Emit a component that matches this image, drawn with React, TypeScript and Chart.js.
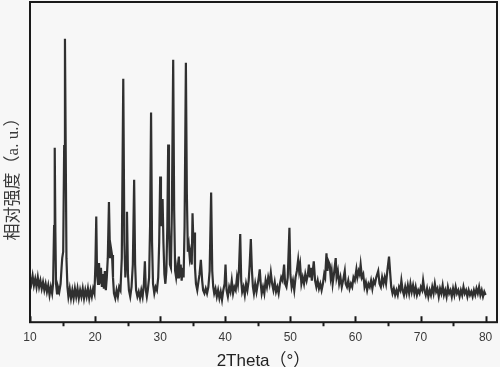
import React, { useEffect, useRef } from "react";
import { Chart, registerables } from "chart.js";

Chart.register(...registerables);

// 2θ (degrees), relative intensity (0–100)
const xrdPattern: [number, number][] = [
  [10.0, 14], [10.2, 12], [10.4, 14.5], [10.6, 11.5], [10.8, 13.5], [11.0, 11], [11.2, 14], [11.4, 11],
  [11.6, 13], [11.8, 10.5], [12.0, 12.5], [12.2, 10], [12.4, 12], [12.6, 9.5], [12.8, 11.5], [13.0, 8.5],
  [13.2, 11], [13.4, 9], [13.55, 12], [13.7, 30], [13.8, 54.5], [13.9, 28], [14.0, 12], [14.15, 9],
  [14.3, 11], [14.5, 9.5], [14.7, 12], [14.85, 17], [14.95, 20], [15.1, 22], [15.25, 55], [15.37, 88.5],
  [15.5, 50], [15.6, 20], [15.75, 11], [15.9, 8], [16.1, 10.5], [16.3, 7.5], [16.5, 10], [16.7, 7.5],
  [16.9, 10.5], [17.1, 8], [17.3, 10.5], [17.5, 7.5], [17.7, 10], [17.9, 8], [18.1, 10.5], [18.3, 7.5],
  [18.5, 10], [18.7, 8], [18.9, 10.5], [19.1, 7.5], [19.3, 10], [19.5, 8], [19.7, 10.5], [19.9, 9],
  [20.05, 18], [20.18, 33], [20.3, 15], [20.45, 12], [20.6, 18.5], [20.75, 12], [20.9, 17], [21.05, 11],
  [21.2, 15], [21.35, 10.5], [21.5, 16], [21.65, 10], [21.8, 14], [21.95, 20], [22.13, 37.5], [22.3, 20],
  [22.45, 23], [22.6, 21], [22.75, 14], [22.9, 9], [23.1, 7.5], [23.3, 10], [23.5, 8], [23.7, 11],
  [23.9, 10], [24.1, 20], [24.33, 76], [24.5, 25], [24.65, 14], [24.78, 20], [24.9, 34.5], [25.05, 15],
  [25.2, 10], [25.4, 8], [25.6, 11], [25.8, 18], [26.0, 44.5], [26.15, 18], [26.3, 10], [26.5, 8],
  [26.7, 9.5], [26.9, 7.5], [27.1, 10], [27.3, 8], [27.5, 12], [27.65, 19], [27.8, 10], [27.95, 8],
  [28.1, 10], [28.3, 14], [28.45, 30], [28.6, 65.5], [28.75, 25], [28.9, 12], [29.1, 9], [29.3, 11],
  [29.5, 10], [29.7, 14], [29.85, 25], [30.0, 45.5], [30.12, 30], [30.25, 33], [30.37, 38.5], [30.5, 25],
  [30.65, 15], [30.8, 12], [30.95, 16], [31.1, 30], [31.23, 55.5], [31.35, 30], [31.5, 18], [31.65, 17],
  [31.8, 35], [32.0, 82], [32.15, 35], [32.3, 16], [32.45, 14], [32.6, 17], [32.75, 14], [32.87, 20.5],
  [33.0, 14], [33.15, 18], [33.3, 13], [33.45, 17], [33.6, 14], [33.75, 30], [33.95, 81], [34.1, 40],
  [34.25, 22], [34.4, 24], [34.55, 20], [34.7, 22], [34.85, 18], [34.97, 34], [35.1, 25], [35.2, 28],
  [35.35, 17], [35.5, 12], [35.7, 10], [35.9, 13], [36.05, 15], [36.25, 19.5], [36.45, 13], [36.6, 10],
  [36.8, 9], [37.0, 10.5], [37.2, 9], [37.4, 11], [37.6, 16], [37.83, 40.5], [38.0, 16], [38.15, 11],
  [38.3, 9], [38.5, 10.5], [38.7, 8], [38.9, 10], [39.1, 7.5], [39.3, 9.5], [39.5, 7], [39.7, 10],
  [39.9, 12], [40.04, 18], [40.2, 10], [40.4, 8], [40.6, 11], [40.8, 9.5], [41.0, 13], [41.2, 9],
  [41.4, 11], [41.6, 10], [41.8, 14], [41.95, 12], [42.1, 16], [42.3, 27.5], [42.45, 13], [42.6, 9.5],
  [42.8, 11], [43.0, 8.5], [43.2, 12], [43.4, 10], [43.6, 13], [43.75, 18], [43.93, 26], [44.1, 16],
  [44.25, 11], [44.4, 9], [44.6, 12], [44.8, 9.5], [45.0, 12], [45.15, 14], [45.3, 16.5], [45.45, 12],
  [45.6, 9], [45.8, 11], [46.0, 9], [46.2, 13], [46.4, 11], [46.6, 14], [46.8, 12], [47.0, 15.5],
  [47.2, 12], [47.4, 10], [47.6, 12.5], [47.8, 9.5], [48.0, 11], [48.2, 9], [48.4, 12], [48.6, 14],
  [48.8, 13], [49.04, 18], [49.2, 12], [49.4, 11], [49.6, 14], [49.86, 29.5], [50.0, 15], [50.2, 11],
  [50.4, 13], [50.6, 10], [50.8, 14], [51.0, 16], [51.2, 19.5], [51.35, 16], [51.5, 18], [51.7, 12],
  [51.9, 14], [52.1, 12], [52.3, 15], [52.5, 13], [52.7, 15], [52.85, 18], [53.0, 14], [53.15, 17],
  [53.3, 13], [53.45, 16], [53.6, 19], [53.8, 13], [54.0, 11], [54.2, 13], [54.4, 10.5], [54.6, 12],
  [54.8, 10], [55.0, 12], [55.2, 15], [55.35, 14], [55.55, 21.5], [55.7, 16], [55.85, 19], [56.05, 18],
  [56.2, 14], [56.35, 16], [56.5, 12], [56.7, 15], [56.97, 20], [57.1, 14], [57.3, 16], [57.5, 12],
  [57.7, 14], [57.9, 11], [58.1, 13], [58.36, 16], [58.5, 12], [58.7, 11], [58.9, 13], [59.1, 10.5],
  [59.3, 12], [59.5, 11], [59.7, 14], [59.9, 13], [60.15, 16.5], [60.3, 14], [60.5, 16], [60.65, 15],
  [60.8, 18], [61.0, 14], [61.2, 15], [61.4, 11], [61.6, 12.5], [61.8, 10], [62.0, 12], [62.2, 11],
  [62.4, 13], [62.6, 10.5], [62.8, 13], [63.0, 12], [63.2, 14], [63.5, 16], [63.7, 12], [63.9, 11],
  [64.1, 14], [64.3, 12], [64.5, 14], [64.7, 12], [64.9, 16], [65.16, 20.5], [65.35, 15], [65.5, 11],
  [65.7, 9], [65.9, 10.5], [66.1, 8.5], [66.3, 10], [66.5, 8.5], [66.7, 11], [66.9, 10], [67.06, 13],
  [67.25, 10], [67.45, 8.5], [67.65, 11], [67.85, 9], [68.05, 11.5], [68.25, 9], [68.45, 12], [68.65, 9.5],
  [68.85, 11.5], [69.05, 9], [69.25, 11], [69.45, 8.5], [69.65, 10], [69.85, 9], [70.05, 11], [70.25, 10],
  [70.4, 13], [70.6, 10], [70.8, 8.5], [71.0, 10.5], [71.2, 8], [71.4, 10], [71.6, 8.5], [71.8, 11],
  [72.0, 9], [72.2, 12], [72.4, 9.5], [72.6, 10.5], [72.8, 8], [73.0, 10.5], [73.2, 9], [73.4, 11.5],
  [73.6, 8.5], [73.8, 10], [74.0, 8], [74.2, 11], [74.4, 9], [74.6, 10], [74.8, 8], [75.0, 10.5],
  [75.2, 8.5], [75.4, 11], [75.6, 9], [75.8, 10], [76.0, 8], [76.2, 10], [76.4, 8.5], [76.6, 11],
  [76.8, 9], [77.0, 10], [77.2, 8], [77.4, 10], [77.6, 8.5], [77.8, 9.5], [78.0, 8], [78.2, 10],
  [78.4, 8.5], [78.6, 10.5], [78.8, 9], [79.0, 11], [79.2, 8.5], [79.4, 10], [79.6, 8], [79.8, 9.5],
  [80.0, 8.5],
];

const xTickValues = [10, 20, 30, 40, 50, 60, 70, 80];
const xMinorTickValues = [15, 25, 35, 45, 55, 65, 75];
const xAxisTitle = "2Theta（°）";
const yAxisTitle = "相对强度（a. u.）";

const framePlugin = {
  id: "frameAndTicks",
  beforeDraw(chart: any) {
    const { ctx, width, height } = chart;
    ctx.save();
    ctx.fillStyle = "#f7f7f7";
    ctx.fillRect(0, 0, width, height);
    ctx.restore();
  },
  afterDraw(chart: any) {
    const { ctx, chartArea } = chart;
    const xs = chart.scales.x;
    const { left, right, top, bottom } = chartArea;
    ctx.save();
    ctx.strokeStyle = "#1a1a1a";
    ctx.lineWidth = 2;
    ctx.strokeRect(left, top, right - left, bottom - top);
    ctx.beginPath();
    xTickValues.forEach((v) => {
      const px = Math.round(xs.getPixelForValue(v)) + 0.5;
      ctx.moveTo(px, bottom);
      ctx.lineTo(px, bottom - 6);
    });
    xMinorTickValues.forEach((v) => {
      const px = Math.round(xs.getPixelForValue(v)) + 0.5;
      ctx.moveTo(px, bottom);
      ctx.lineTo(px, bottom + 4);
    });
    ctx.stroke();
    // y axis title
    ctx.translate(14, 175);
    ctx.rotate(-Math.PI / 2);
    ctx.fillStyle = "#3a3a3a";
    ctx.font = "17px 'Liberation Serif', 'Noto Sans CJK SC'";
    ctx.textAlign = "center";
    ctx.textBaseline = "middle";
    ctx.fillText(yAxisTitle, 0, 0);
    ctx.restore();
  },
};

export default function App() {
  const canvasRef = useRef<HTMLCanvasElement | null>(null);

  useEffect(() => {
    if (!canvasRef.current) return;
    const chart = new Chart(canvasRef.current, {
      type: "line",
      data: {
        datasets: [
          {
            data: xrdPattern.map(([x, y]) => ({ x, y })),
            borderColor: "#303030",
            borderWidth: 2.2,
            pointRadius: 0,
            tension: 0,
            fill: false,
          },
        ],
      },
      options: {
        animation: false,
        responsive: false,
        maintainAspectRatio: false,
        layout: { padding: { left: 30, right: 3, top: 2, bottom: -6 } },
        plugins: {
          legend: { display: false },
          tooltip: { enabled: false },
        },
        scales: {
          x: {
            type: "linear",
            min: 10,
            max: 81.75,
            afterBuildTicks: (scale: any) => {
              scale.ticks = xTickValues.map((v) => ({ value: v }));
            },
            afterFit: (scale: any) => {
              scale.paddingLeft = 0;
              scale.paddingRight = 0;
            },
            grid: { display: false, drawTicks: false },
            border: { display: false },
            ticks: {
              padding: 8,
              color: "#3a3a3a",
              font: { family: "'Liberation Sans', Arial", size: 12 },
              maxRotation: 0,
              autoSkip: false,
            },
            title: {
              display: true,
              text: xAxisTitle,
              color: "#222",
              font: { family: "'Liberation Sans', 'Noto Sans CJK SC'", size: 17 },
              padding: { top: -1, bottom: 1 },
            },
          },
          y: {
            display: false,
            min: 0,
            max: 100,
          },
        },
      },
      plugins: [framePlugin],
    });
    return () => chart.destroy();
  }, []);

  return (
    <div style={{ position: "absolute", left: 0, top: 0, width: 500, height: 367 }}>
      <canvas ref={canvasRef} width={500} height={367} style={{ display: "block", width: 500, height: 367 }} />
    </div>
  );
}
